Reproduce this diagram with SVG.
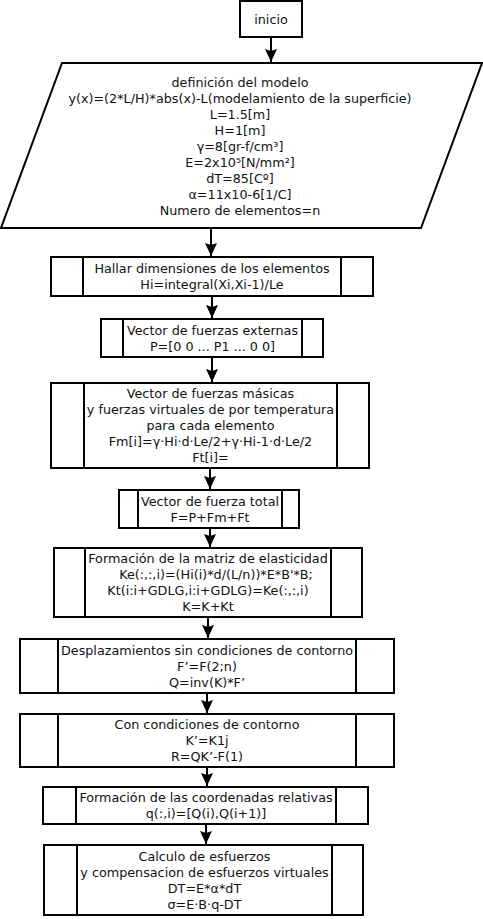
<svg xmlns="http://www.w3.org/2000/svg" width="483" height="919" viewBox="0 0 483 919">
<defs>
<style>
.b{fill:#fff;stroke:#000;stroke-width:2}
.d{stroke:#000;stroke-width:2;fill:none}
text{font-family:"DejaVu Sans","Liberation Sans",sans-serif;font-size:12.75px;fill:#111;text-anchor:middle}
.c{stroke:#000;stroke-width:2;fill:none;marker-end:url(#ah)}
</style>
<marker id="ah" markerUnits="userSpaceOnUse" markerWidth="14" markerHeight="14" viewBox="0 0 14 14" refX="13" refY="7" orient="auto">
<path d="M0,1 L13,7 L0,13 L2,7 z" fill="#000"/>
</marker>
</defs>
<rect width="483" height="919" fill="#fff"/>
<g id="connectors">
<line class="c" x1="271" y1="37" x2="271" y2="62"/>
<line class="c" x1="211" y1="228" x2="211" y2="256"/>
<line class="c" x1="212" y1="296" x2="212" y2="318"/>
<line class="c" x1="212" y1="357" x2="212" y2="382"/>
<line class="c" x1="210" y1="468" x2="210" y2="489"/>
<line class="c" x1="210" y1="528" x2="210" y2="547"/>
<line class="c" x1="208" y1="617" x2="208" y2="638"/>
<line class="c" x1="207" y1="693" x2="207" y2="713"/>
<line class="c" x1="207" y1="767" x2="207" y2="786"/>
<line class="c" x1="206" y1="824" x2="206" y2="844"/>
</g>
<g id="inicio">
<rect class="b" x="240" y="1" width="62" height="36"/>
<text x="271" y="23.5">inicio</text>
</g>
<g id="modelo">
<polygon class="b" points="62,63 482,63 421,228 1,228"/>
<text x="240" y="86.5">definición del modelo</text>
<text x="240" y="102.5">y(x)=(2*L/H)*abs(x)-L(modelamiento de la superficie)</text>
<text x="240" y="118.5">L=1.5[m]</text>
<text x="240" y="134.5">H=1[m]</text>
<text x="240" y="150.5">γ=8[gr-f/cm³]</text>
<text x="240" y="166.5">E=2x10⁵[N/mm²]</text>
<text x="240" y="182.5">dT=85[Cº]</text>
<text x="240" y="198.5">α=11x10-6[1/C]</text>
<text x="240" y="214.5">Numero de elementos=n</text>
</g>
<g id="hallar">
<rect class="b" x="51" y="257" width="322" height="39"/>
<path class="d" d="M83,257V296M341,257V296"/>
<text x="212" y="273">Hallar dimensiones de los elementos</text>
<text x="212" y="289">Hi=integral(Xi,Xi-1)/Le</text>
</g>
<g id="externas">
<rect class="b" x="101" y="319" width="222" height="38"/>
<path class="d" d="M123,319V357M302,319V357"/>
<text x="212.5" y="334.5">Vector de fuerzas externas</text>
<text x="212.5" y="350.5">P=[0 0 ... P1 ... 0 0]</text>
</g>
<g id="masicas">
<rect class="b" x="51" y="383" width="318" height="85"/>
<path class="d" d="M84,383V468M337,383V468"/>
<text x="210.5" y="398">Vector de fuerzas másicas</text>
<text x="210.5" y="414">y fuerzas virtuales de por temperatura</text>
<text x="210.5" y="430">para cada elemento</text>
<text x="210.5" y="446">Fm[i]=γ·Hi·d·Le/2+γ·Hi-1·d·Le/2</text>
<text x="210.5" y="462">Ft[i]=</text>
</g>
<g id="total">
<rect class="b" x="119" y="490" width="180" height="38"/>
<path class="d" d="M138,490V528M282,490V528"/>
<text x="210" y="505.5">Vector de fuerza total</text>
<text x="210" y="521.5">F=P+Fm+Ft</text>
</g>
<g id="matriz">
<rect class="b" x="54" y="548" width="308" height="69"/>
<path class="d" d="M85,548V617M331,548V617"/>
<text x="208" y="563">Formación de la matriz de elasticidad</text>
<text x="216" y="579">Ke(:,:,i)=(Hi(i)*d/(L/n))*E*B'*B;</text>
<text x="208" y="595">Kt(i:i+GDLG,i:i+GDLG)=Ke(:,:,i)</text>
<text x="208" y="611">K=K+Kt</text>
</g>
<g id="desplazamientos">
<rect class="b" x="20" y="639" width="374" height="54"/>
<path class="d" d="M58,639V693M356,639V693"/>
<text x="207" y="654.5">Desplazamientos sin condiciones de contorno</text>
<text x="207" y="670.5">F’=F(2;n)</text>
<text x="207" y="686.5">Q=inv(K)*F’</text>
</g>
<g id="contorno">
<rect class="b" x="20" y="714" width="374" height="53"/>
<path class="d" d="M58,714V767M356,714V767"/>
<text x="207" y="729">Con condiciones de contorno</text>
<text x="207" y="745">K’=K1j</text>
<text x="207" y="761">R=QK’-F(1)</text>
</g>
<g id="coordenadas">
<rect class="b" x="43" y="787" width="325" height="37"/>
<path class="d" d="M76,787V824M336,787V824"/>
<text x="206" y="802">Formación de las coordenadas relativas</text>
<text x="206" y="818">q(:,i)=[Q(i),Q(i+1)]</text>
</g>
<g id="esfuerzos">
<rect class="b" x="44" y="845" width="319" height="70"/>
<path class="d" d="M77,845V915M332,845V915"/>
<text x="204.5" y="860.5">Calculo de esfuerzos</text>
<text x="204.5" y="876.5">y compensacion de esfuerzos virtuales</text>
<text x="204.5" y="892.5">DT=E*α*dT</text>
<text x="204.5" y="908.5">σ=E·B·q-DT</text>
</g>
</svg>
